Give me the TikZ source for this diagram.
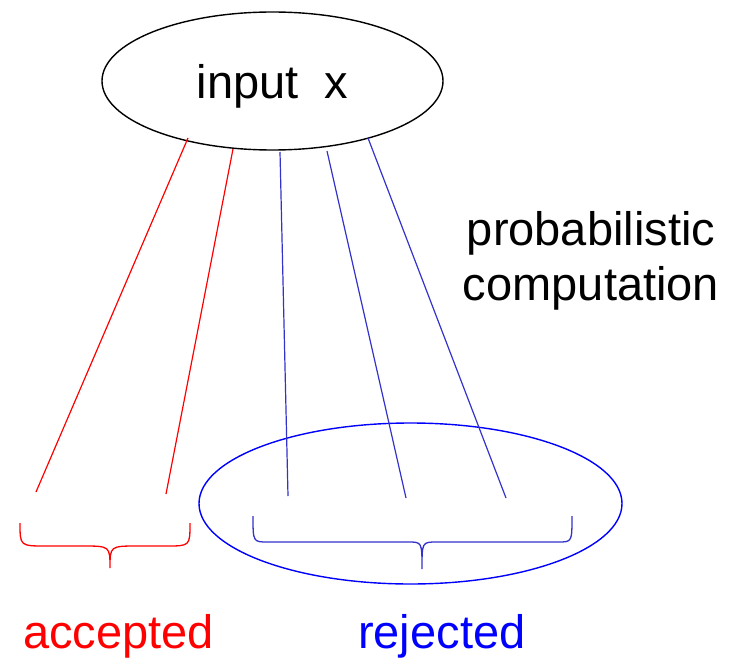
\documentclass[tikz,border=0pt]{standalone}
\usepackage{fontspec}
\setmainfont{Liberation Sans}
\usetikzlibrary{shapes.geometric}
\definecolor{pred}{RGB}{255,0,0}
\definecolor{pblue}{RGB}{0,0,255}
\definecolor{lblue}{RGB}{51,51,204}
\begin{document}
\begin{tikzpicture}[x=1pt,y=-1pt,
  bigtext/.style={font=\fontsize{47}{55}\selectfont,inner sep=0pt},
  redline/.style={draw=pred,line width=1.2pt},
  blueline/.style={draw=lblue,line width=1.2pt},
  bracered/.style={draw=pred,line width=1.3pt},
  braceblue/.style={draw=lblue,line width=1.3pt}]
\useasboundingbox (0,0) rectangle (738,658);
% top ellipse
\node[ellipse,draw=black,line width=1.4pt,minimum width=341pt,minimum height=138pt,
  inner sep=0pt,bigtext,text depth=0pt] (in) at (272.5,81) {input\ \ x};
% rejected ellipse
\node[ellipse,draw=pblue,line width=1.4pt,minimum width=423pt,minimum height=161pt,
  inner sep=0pt] (rej) at (410.5,503.5) {};
% branch end points
\coordinate (s1) at (188,138); \coordinate (e1) at (36,492);
\coordinate (s2) at (233,149); \coordinate (e2) at (166,494);
\coordinate (s3) at (280,152); \coordinate (e3) at (288,496);
\coordinate (s4) at (327,151); \coordinate (e4) at (406,498);
\coordinate (s5) at (368,138); \coordinate (e5) at (506,498);
\draw[redline] (s1) -- (e1);
\draw[redline] (s2) -- (e2);
\draw[blueline] (s3) -- (e3);
\draw[blueline] (s4) -- (e4);
\draw[blueline] (s5) -- (e5);
% braces
\draw[bracered] (20,523) .. controls (20,546) .. (46,546) -- (82,546)
  .. controls (110,546) .. (110,568) .. controls (110,546) .. (138,546)
  -- (166,546) .. controls (190,546) .. (190,523);
\draw[braceblue] (253,516) .. controls (253,542) .. (268,542) -- (408,542)
  .. controls (422,542) .. (422,569) .. controls (422,542) .. (437,542)
  -- (558,542) .. controls (572,542) .. (572,516);
% labels
\node[bigtext,anchor=base,align=center] (pc) at (591,300) {probabilistic\\computation};
\node[bigtext,anchor=base west,text=pred] (acc) at (23,648) {accepted};
\node[bigtext,anchor=base west,text=pblue] (rj) at (358,648) {rejected};
\end{tikzpicture}
\end{document}
